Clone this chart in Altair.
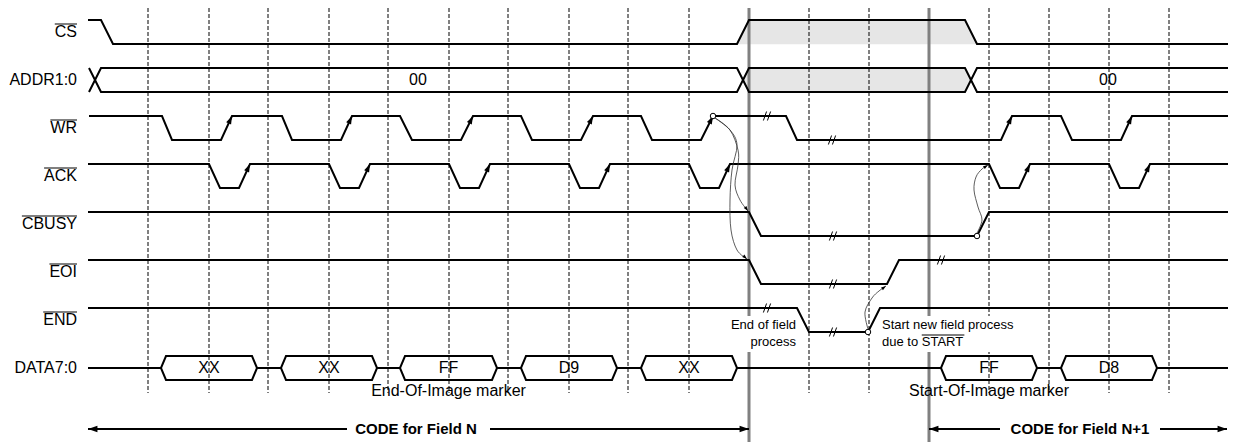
import math
import altair as alt
import pandas as pd

# ---------------- values ----------------
# time unit = 1 px of the original, origin at the first dashed grid line
GRID_T = [0, 61, 120, 181, 240, 301, 360, 421, 480, 541, 601, 661, 721, 781, 841, 901, 961, 1021, 1081]
MARKER_T = [601, 781]

ROW_NAMES = ["CS", "ADDR1:0", "WR", "ACK", "CBUSY", "EOI", "END", "DATA7:0"]
ROW_BAR = [True, False, True, True, True, True, True, False]

CS_T = [-60, -47, -35, 589, 601, 817, 829, 1080]
CS_L = [1, 1, 0, 0, 1, 1, 0, 0]
WR_T = [-59, 14, 24, 73, 84, 134, 144, 193, 204, 252, 264, 313, 325, 373, 384, 433, 445,
        493, 504, 553, 565, 638, 649, 853, 864, 913, 924, 973, 984, 1080]
WR_L = [1, 1, 0, 0, 1, 1, 0, 0, 1, 1, 0, 0, 1, 1, 0, 0, 1,
        1, 0, 0, 1, 1, 0, 0, 1, 1, 0, 0, 1, 1]
ACK_T = [-60, 61, 72, 91, 102, 181, 192, 211, 222, 301, 312, 331, 342, 421, 432, 451, 462,
         541, 552, 571, 582, 841, 852, 871, 882, 961, 972, 991, 1002, 1080]
ACK_L = [1, 1, 0, 0, 1, 1, 0, 0, 1, 1, 0, 0, 1, 1, 0, 0, 1,
         1, 0, 0, 1, 1, 0, 0, 1, 1, 0, 0, 1, 1]
CBUSY_T = [-60, 601, 613, 829, 841, 1080]
CBUSY_L = [1, 1, 0, 0, 1, 1]
EOI_T = [-60, 601, 613, 739, 751, 1080]
EOI_L = [1, 1, 0, 0, 1, 1]
END_T = [-60, 649, 661, 720, 732, 1080]
END_L = [1, 1, 0, 0, 1, 1]

ADDR_CROSS_T = [-59, 589, 817]
ADDR_SHADED = [False, True, False]
ADDR_LABEL_T = [270, 960]
ADDR_LABELS = ["00", "00"]

DATA_START = [13, 133, 252, 373, 493, 793, 913]
DATA_END = [109, 229, 349, 469, 589, 889, 1009]
DATA_VALUES = ["XX", "XX", "FF", "D9", "XX", "FF", "D8"]

MARKER_NOTES = ["End-Of-Image marker", "Start-Of-Image marker"]
MARKER_NOTE_HEX = [2, 5]

BREAK_SIG = ["WR", "WR", "CBUSY", "EOI", "EOI", "END", "END"]
BREAK_T = [619, 684, 685, 685, 793, 619, 685]
BREAK_LEVEL = [1, 0, 0, 0, 1, 1, 0]

CIRCLE_SIG = ["WR", "CBUSY", "END"]
CIRCLE_T = [565, 829, 720]
CIRCLE_LEVEL = [1, 0, 0]

# causal curves (t, y) sample points
CURVE_A_T = [567, 582, 590, 590, 587, 592, 600]
CURVE_A_Y = [98, 110, 130, 145, 165, 180, 191]
CURVE_B_T = [567, 582, 589, 584, 582, 583, 589, 599]
CURVE_B_Y = [98, 110, 125, 150, 180, 210, 230, 239]
CURVE_C_T = [829, 834, 830, 826, 828, 834, 840]
CURVE_C_Y = [213, 200, 187, 170, 157, 149, 145]
CURVE_D_T = [720, 717, 724, 731, 738]
CURVE_D_Y = [309, 292, 278, 271, 266]

CODE_LABELS = ["CODE for Field N", "CODE for Field N+1"]
CODE_FROM = [-60, 781]
CODE_TO = [601, 1079]
CODE_TEXT_T = [268, 932]
CODE_GAP_L = [199, 852]
CODE_GAP_R = [342, 1012]

NOTE_END_LINES = ["End of field", "process"]
NOTE_END_T = 648
NOTE_START_LINES = ["Start new field process", "due to START"]
NOTE_START_T = 734
NOTE_START_BAR = "START"

# ---------------- layout / style ----------------
W, H = 1220, 434
T_MIN, T_MAX = -140, 1080
Y_MIN, Y_MAX = -12, 422
ROW_PITCH, SWING = 48, 24
LABEL_T = -71
FONT = "Liberation Sans"
BUS_W = 12
HEX_W = 5
ARROW_Y = 409
NOTE_Y = [305, 322]
SHADE = "#e6e6e6"

ARIAL = {"A": 667, "B": 667, "C": 722, "D": 722, "E": 667, "I": 278, "K": 667, "N": 722,
         "O": 778, "R": 722, "S": 667, "T": 611, "U": 722, "W": 944, "Y": 667, " ": 278,
         "d": 556, "u": 556, "e": 556, "t": 278, "o": 556}


def tw(s, size):
    return sum(ARIAL.get(c, 556) for c in s) * size / 1000.0


def row_top(name):
    return ROW_PITCH * ROW_NAMES.index(name)


def lvl_y(name, l):
    return row_top(name) + (0 if l else SWING)


xs = alt.Scale(domain=[T_MIN, T_MAX], nice=False, zero=False)
ys = alt.Scale(domain=[Y_MIN, Y_MAX], nice=False, zero=False, reverse=True)


def X(f):
    return alt.X(f, type="quantitative", scale=xs, axis=None)


def Y(f):
    return alt.Y(f, type="quantitative", scale=ys, axis=None)


# waveforms
digital = {"CS": (CS_T, CS_L), "WR": (WR_T, WR_L), "ACK": (ACK_T, ACK_L),
           "CBUSY": (CBUSY_T, CBUSY_L), "EOI": (EOI_T, EOI_L), "END": (END_T, END_L)}
wave_rows = []
for name, (ts, ls) in digital.items():
    for i, (t, l) in enumerate(zip(ts, ls)):
        wave_rows.append({"key": name, "i": i, "t": t, "y": lvl_y(name, l)})

# ADDR bus
a_top = row_top("ADDR1:0")
a_bot = a_top + SWING
a_mid = a_top + SWING / 2
pa, pb = [], []
for k, c in enumerate(ADDR_CROSS_T):
    lo_before = a_bot if k % 2 == 0 else a_top
    hi_after = a_top if k % 2 == 0 else a_bot
    pa += [(c, lo_before), (c + BUS_W, hi_after)]
    pb += [(c, hi_after), (c + BUS_W, lo_before)]
pa.append((T_MAX, pa[-1][1]))
pb.append((T_MAX, pb[-1][1]))
for key, path in (("ADDR_a", pa), ("ADDR_b", pb)):
    for i, (t, y) in enumerate(path):
        wave_rows.append({"key": key, "i": i, "t": t, "y": y})

# DATA bus
d_top = row_top("DATA7:0")
d_bot = d_top + SWING
d_mid = d_top + SWING / 2
for key, edge in (("DATA_a", d_top), ("DATA_b", d_bot)):
    path = [(-60, d_mid)]
    for s, e in zip(DATA_START, DATA_END):
        path += [(s, d_mid), (s + HEX_W, edge), (e - HEX_W, edge), (e, d_mid)]
    path.append((T_MAX, d_mid))
    for i, (t, y) in enumerate(path):
        wave_rows.append({"key": key, "i": i, "t": t, "y": y})
wave_df = pd.DataFrame(wave_rows)

# shaded regions as closed polygons (drawn as filled paths)
poly_rows = []
cs_low = lvl_y("CS", 0)
pts = [(CS_T[idx], lvl_y("CS", CS_L[idx])) for idx in range(3, 7)]
for i, (t, y) in enumerate(pts + [pts[0]]):
    poly_rows.append({"pid": "cs", "i": i, "t": t, "y": y})
for k, sh in enumerate(ADDR_SHADED):
    if sh:
        c0, c1 = ADDR_CROSS_T[k], ADDR_CROSS_T[k + 1]
        pts = [(c0 + BUS_W / 2, a_mid), (c0 + BUS_W, a_top), (c1, a_top), (c1 + BUS_W / 2, a_mid),
               (c1, a_bot), (c0 + BUS_W, a_bot), (c0 + BUS_W / 2, a_mid)]
        for i, (t, y) in enumerate(pts):
            poly_rows.append({"pid": "addr%d" % k, "i": i, "t": t, "y": y})
poly_df = pd.DataFrame(poly_rows)

grid_df = pd.DataFrame({"t": GRID_T, "y0": Y_MIN, "y1": 373})
mark_df = pd.DataFrame({"t": MARKER_T, "y0": Y_MIN, "y1": Y_MAX})

# arrowheads
ARROW = "M0,0L-0.6,1.8L0.6,1.8Z"
heads = []
for name in ("WR", "ACK"):
    ts, ls = digital[name]
    for i in range(1, len(ts)):
        if ls[i - 1] == 0 and ls[i] == 1:
            dx = ts[i] - ts[i - 1]
            heads.append({"t": ts[i], "y": lvl_y(name, 1),
                          "ang": math.degrees(math.atan2(dx, SWING)) % 360, "s": 81})
curves = {"A": (CURVE_A_T, CURVE_A_Y), "B": (CURVE_B_T, CURVE_B_Y),
          "C": (CURVE_C_T, CURVE_C_Y), "D": (CURVE_D_T, CURVE_D_Y)}
curve_rows = []
for cid, (ts, yv) in curves.items():
    for i, (t, y) in enumerate(zip(ts, yv)):
        curve_rows.append({"cid": cid, "i": i, "t": t, "y": y})
    dx, dy = ts[-1] - ts[-2], yv[-1] - yv[-2]
    heads.append({"t": ts[-1], "y": yv[-1], "ang": math.degrees(math.atan2(dx, -dy)) % 360, "s": 30})
curve_df = pd.DataFrame(curve_rows)
for a, b in zip(CODE_FROM, CODE_TO):
    heads.append({"t": a, "y": ARROW_Y, "ang": 270, "s": 110})
    heads.append({"t": b, "y": ARROW_Y, "ang": 90, "s": 110})
head_df = pd.DataFrame(heads)

code_seg_df = pd.DataFrame({"t": CODE_FROM + CODE_GAP_R, "t2": CODE_GAP_L + CODE_TO, "y": ARROW_Y})
code_txt_df = pd.DataFrame({"t": CODE_TEXT_T, "y": ARROW_Y, "txt": CODE_LABELS})

circ_df = pd.DataFrame({"t": CIRCLE_T, "y": [lvl_y(s, l) for s, l in zip(CIRCLE_SIG, CIRCLE_LEVEL)]})
brk_df = pd.DataFrame({"t": BREAK_T, "y": [lvl_y(s, l) for s, l in zip(BREAK_SIG, BREAK_LEVEL)]})
BREAK = "M-0.8,1L-0.1,-1M0.1,1L0.8,-1"

# text tables
lab_df = pd.DataFrame({"t": LABEL_T, "y": [ROW_PITCH * i + SWING / 2 for i in range(len(ROW_NAMES))],
                       "txt": ROW_NAMES})
bar_rows = []
for i, (n, b) in enumerate(zip(ROW_NAMES, ROW_BAR)):
    if b:
        y = ROW_PITCH * i + SWING / 2 - 8
        bar_rows.append({"t": LABEL_T - tw(n, 16), "t2": LABEL_T, "y": y})
pre = NOTE_START_LINES[1][:NOTE_START_LINES[1].index(NOTE_START_BAR)]
bar_rows.append({"t": NOTE_START_T + tw(pre, 13), "t2": NOTE_START_T + tw(pre + NOTE_START_BAR, 13),
                 "y": NOTE_Y[1] - 7})
bar_df = pd.DataFrame(bar_rows)

bus_txt = pd.DataFrame({"t": ADDR_LABEL_T + [(s + e) / 2 for s, e in zip(DATA_START, DATA_END)],
                        "y": [a_mid] * len(ADDR_LABEL_T) + [d_mid] * len(DATA_VALUES),
                        "txt": ADDR_LABELS + DATA_VALUES})
mk_txt = pd.DataFrame({"t": [(DATA_START[i] + DATA_END[i]) / 2 for i in MARKER_NOTE_HEX],
                       "y": 371, "txt": MARKER_NOTES})
note_r = pd.DataFrame({"t": NOTE_END_T, "y": NOTE_Y, "txt": NOTE_END_LINES})
note_l = pd.DataFrame({"t": NOTE_START_T, "y": NOTE_Y, "txt": NOTE_START_LINES})
box_df = pd.DataFrame({"t": [NOTE_END_T - tw("End of field", 13) - 4, NOTE_START_T - 3],
                       "t2": [NOTE_END_T + 4, NOTE_START_T + 138],
                       "y": [296, 296], "y2": [332, 332]})

layers = [
    alt.Chart(poly_df).mark_line(fill=SHADE, stroke=SHADE, strokeWidth=0.5, opacity=1).encode(
        x=X("t"), y=Y("y"), detail="pid:N", order="i:Q"),
    alt.Chart(grid_df).mark_rule(color="black", strokeWidth=1, strokeDash=[4, 2]).encode(
        x=X("t"), y=Y("y0"), y2="y1"),
    alt.Chart(mark_df).mark_rule(color="#808080", strokeWidth=3).encode(
        x=X("t"), y=Y("y0"), y2="y1"),
    alt.Chart(box_df).mark_rect(color="white", opacity=1).encode(
        x=X("t"), x2="t2", y=Y("y"), y2="y2"),
    alt.Chart(wave_df).mark_line(color="black", strokeWidth=2).encode(
        x=X("t"), y=Y("y"), detail="key:N", order="i:Q"),
    alt.Chart(curve_df).mark_line(color="#333333", strokeWidth=0.8, interpolate="cardinal").encode(
        x=X("t"), y=Y("y"), detail="cid:N", order="i:Q"),
    alt.Chart(code_seg_df).mark_rule(color="black", strokeWidth=2).encode(
        x=X("t"), x2="t2", y=Y("y")),
    alt.Chart(head_df).mark_point(shape=ARROW, filled=True, color="black", opacity=1).encode(
        x=X("t"), y=Y("y"), angle=alt.Angle("ang:Q", scale=None), size=alt.Size("s:Q", scale=None)),
    alt.Chart(circ_df).mark_point(shape="circle", filled=True, fill="white", stroke="black",
                                  strokeWidth=1, size=30, opacity=1).encode(x=X("t"), y=Y("y")),
    alt.Chart(brk_df).mark_point(shape=BREAK, filled=False, stroke="black", strokeWidth=1,
                                 size=81, opacity=1).encode(x=X("t"), y=Y("y")),
    alt.Chart(lab_df).mark_text(font=FONT, fontSize=16, align="right", baseline="middle",
                                color="black").encode(x=X("t"), y=Y("y"), text="txt:N"),
    alt.Chart(bar_df).mark_rule(color="black", strokeWidth=1).encode(x=X("t"), x2="t2", y=Y("y")),
    alt.Chart(bus_txt).mark_text(font=FONT, fontSize=16, align="center", baseline="middle",
                                 color="black").encode(x=X("t"), y=Y("y"), text="txt:N"),
    alt.Chart(mk_txt).mark_text(font=FONT, fontSize=16, align="center", baseline="middle",
                                color="black").encode(x=X("t"), y=Y("y"), text="txt:N"),
    alt.Chart(note_r).mark_text(font=FONT, fontSize=13, align="right", baseline="middle",
                                color="black").encode(x=X("t"), y=Y("y"), text="txt:N"),
    alt.Chart(note_l).mark_text(font=FONT, fontSize=13, align="left", baseline="middle",
                                color="black").encode(x=X("t"), y=Y("y"), text="txt:N"),
    alt.Chart(code_txt_df).mark_text(font=FONT, fontSize=15, fontWeight="bold", align="center",
                                     baseline="middle", color="black").encode(
        x=X("t"), y=Y("y"), text="txt:N"),
]

chart = alt.layer(*layers).properties(
    width=W, height=H, padding=0, autosize="none", background="white"
).configure_view(stroke=None)

chart.save("out.html", embed_options={"renderer": "svg", "actions": False})
